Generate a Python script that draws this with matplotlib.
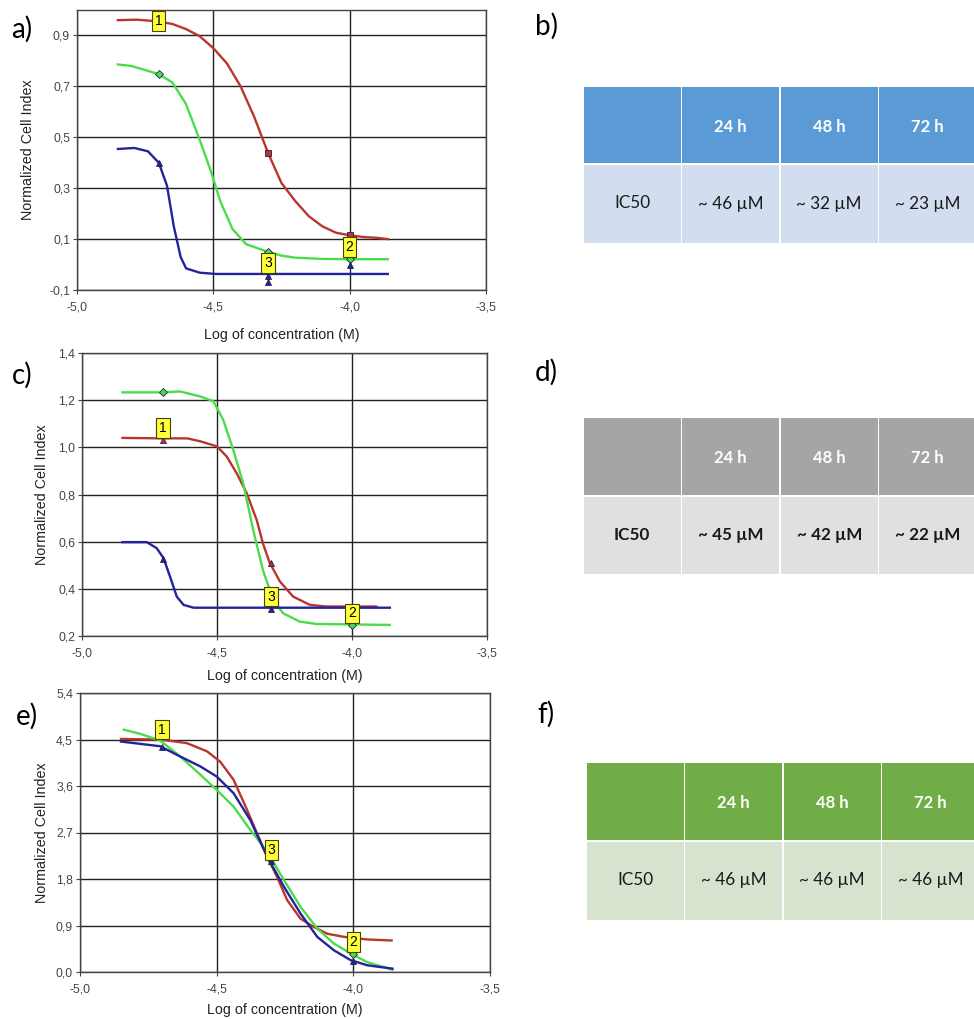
import matplotlib
matplotlib.use("Agg")
import matplotlib.pyplot as plt
from matplotlib.patches import Rectangle
from matplotlib.ticker import FuncFormatter

W, H = 974, 1019

# ---- panel a ----
a_red_x = [-4.85, -4.78, -4.70, -4.65, -4.60, -4.55, -4.50, -4.45, -4.40, -4.35,
           -4.30, -4.25, -4.20, -4.15, -4.10, -4.05, -4.00, -3.95, -3.90, -3.86]
a_red_y = [0.96, 0.962, 0.955, 0.945, 0.925, 0.897, 0.85, 0.79, 0.70, 0.58,
           0.44, 0.32, 0.25, 0.19, 0.15, 0.125, 0.115, 0.108, 0.105, 0.10]
a_grn_x = [-4.85, -4.80, -4.70, -4.65, -4.60, -4.55, -4.51, -4.475, -4.43, -4.38,
           -4.30, -4.25, -4.20, -4.10, -4.00, -3.86]
a_grn_y = [0.786, 0.78, 0.748, 0.715, 0.63, 0.49, 0.37, 0.25, 0.14, 0.08,
           0.05, 0.035, 0.027, 0.022, 0.021, 0.021]
a_blu_x = [-4.85, -4.79, -4.74, -4.70, -4.67, -4.645, -4.62, -4.60, -4.55, -4.49, -3.86]
a_blu_y = [0.454, 0.458, 0.445, 0.40, 0.31, 0.15, 0.03, -0.015, -0.032, -0.037, -0.037]
a_marks = {"red": ([-4.3, -4.0], [0.44, 0.115], "s"),
           "grn": ([-4.7, -4.3, -4.0], [0.748, 0.05, 0.02], "D"),
           "blu": ([-4.7, -4.3, -4.3, -4.0], [0.40, -0.045, -0.068, -0.003], "^")}
a_tags = [("1", -4.70, 0.956), ("2", -4.0, 0.07), ("3", -4.30, 0.005)]

# ---- panel c ----
c_red_x = [-4.85, -4.70, -4.61, -4.56, -4.50, -4.464, -4.427, -4.39, -4.353, -4.33,
           -4.305, -4.267, -4.218, -4.156, -4.095, -3.91]
c_red_y = [1.04, 1.038, 1.038, 1.025, 1.004, 0.961, 0.89, 0.806, 0.692, 0.593,
           0.511, 0.431, 0.367, 0.332, 0.325, 0.325]
c_grn_x = [-4.85, -4.70, -4.637, -4.563, -4.513, -4.477, -4.44, -4.403, -4.366, -4.33,
           -4.292, -4.255, -4.193, -4.132, -3.86]
c_grn_y = [1.233, 1.233, 1.237, 1.216, 1.195, 1.117, 0.99, 0.848, 0.65, 0.48,
           0.353, 0.296, 0.261, 0.251, 0.247]
c_blu_x = [-4.85, -4.76, -4.723, -4.698, -4.674, -4.649, -4.624, -4.587, -3.86]
c_blu_y = [0.598, 0.598, 0.572, 0.53, 0.452, 0.367, 0.332, 0.32, 0.32]
c_marks = {"red": ([-4.7, -4.3], [1.03, 0.51], "^"),
           "grn": ([-4.7, -4.0], [1.233, 0.245], "D"),
           "blu": ([-4.7, -4.3], [0.527, 0.315], "^")}
c_tags = [("1", -4.70, 1.082), ("2", -4.0, 0.296), ("3", -4.30, 0.367)]

# ---- panel e ----
e_red_x = [-4.85, -4.707, -4.609, -4.535, -4.487, -4.438, -4.389, -4.352, -4.315,
           -4.279, -4.242, -4.193, -4.144, -4.095, -4.034, -3.949, -3.86]
e_red_y = [4.51, 4.50, 4.43, 4.27, 4.07, 3.72, 3.14, 2.68, 2.23,
           1.84, 1.39, 1.03, 0.87, 0.74, 0.68, 0.63, 0.61]
e_grn_x = [-4.84, -4.78, -4.707, -4.633, -4.56, -4.499, -4.438, -4.377, -4.315,
           -4.254, -4.193, -4.132, -4.071, -4.01, -3.949, -3.857]
e_grn_y = [4.69, 4.61, 4.48, 4.17, 3.82, 3.52, 3.20, 2.75, 2.33,
           1.78, 1.26, 0.84, 0.55, 0.36, 0.19, 0.045]
e_blu_x = [-4.85, -4.707, -4.633, -4.56, -4.499, -4.438, -4.377, -4.315,
           -4.254, -4.193, -4.132, -4.071, -4.01, -3.949, -3.857]
e_blu_y = [4.46, 4.37, 4.17, 3.98, 3.78, 3.46, 2.94, 2.23,
           1.65, 1.13, 0.68, 0.42, 0.23, 0.13, 0.065]
e_marks = {"grn": ([-4.0], [0.35], "D"),
           "blu": ([-4.7, -4.3, -4.0], [4.35, 2.15, 0.22], "^")}
e_tags = [("1", -4.70, 4.69), ("2", -4.0, 0.58), ("3", -4.30, 2.36)]

# ---- tables ----
col_labels = ["", "24 h", "48 h", "72 h"]
row_label = "IC50"
b_vals = ["~ 46 µM", "~ 32 µM", "~ 23 µM"]
d_vals = ["~ 45 µM", "~ 42 µM", "~ 22 µM"]
f_vals = ["~ 46 µM", "~ 46 µM", "~ 46 µM"]

colors = {"red": "#b9362e", "grn": "#4bdc4b", "blu": "#23239c"}

fig = plt.figure(figsize=(W / 100, H / 100), dpi=100)
fig.patch.set_facecolor("white")


def px_axes(left, top, right, bottom):
    return fig.add_axes([left / W, 1 - bottom / H, (right - left) / W, (bottom - top) / H])


comma = FuncFormatter(lambda v, p: ("%.1f" % v).replace(".", ","))


def curve_panel(box, ylim, yticks, lines, marks, tags, letter, letter_xy, xlab_y, ylab_x):
    ax = px_axes(*box)
    left, top, right, bottom = box
    ax.set_xlim(-5.0, -3.5)
    ax.set_ylim(*ylim)
    ax.set_xticks([-5.0, -4.5, -4.0, -3.5])
    ax.set_yticks(yticks)
    ax.xaxis.set_major_formatter(comma)
    ax.yaxis.set_major_formatter(comma)
    ax.grid(True, color="#222222", lw=1.0)
    ax.set_axisbelow(True)
    for s in ax.spines.values():
        s.set_color("#444444")
        s.set_linewidth(1.0)
    ax.tick_params(labelsize=8.8, colors="#444444", length=3, width=0.8, pad=2)
    ax.tick_params(axis="x", pad=5)
    for lab in ax.get_xticklabels() + ax.get_yticklabels():
        lab.set_family("Liberation Sans")
    for key, (xs, ys) in lines.items():
        ax.plot(xs, ys, color=colors[key], lw=1.7, zorder=3)
    for key, (xs, ys, m) in marks.items():
        ax.plot(xs, ys, ls="none", marker=m, ms=4.5, mfc=colors[key], mec="#222244",
                mew=0.6, zorder=4)
    for t, x, y in tags:
        ax.text(x, y, t, ha="center", va="center", fontsize=10, family="Liberation Sans",
                zorder=5, bbox=dict(boxstyle="square,pad=0.2", fc="#ffff3a", ec="#444400", lw=0.8))
    ax.set_xlabel("Log of concentration (M)", fontsize=10.3, family="Liberation Sans",
                  color="#222222", va="center")
    ax.set_ylabel("Normalized Cell Index", fontsize=10.3, family="Liberation Sans",
                  color="#222222", va="center")
    ax.xaxis.set_label_coords(0.5, (bottom - xlab_y) / (bottom - top))
    ax.yaxis.set_label_coords((ylab_x - left) / (right - left), 0.5)
    fig.text(letter_xy[0] / W, 1 - letter_xy[1] / H, letter, fontsize=20,
             family="Lato", va="center", ha="left")
    return ax


curve_panel((77, 10, 486, 290), (-0.1, 1.0), [-0.1, 0.1, 0.3, 0.5, 0.7, 0.9],
            {"red": (a_red_x, a_red_y), "grn": (a_grn_x, a_grn_y), "blu": (a_blu_x, a_blu_y)},
            a_marks, a_tags, "a)", (11, 29), 335, 28)
curve_panel((82, 353, 487, 636), (0.2, 1.4), [0.2, 0.4, 0.6, 0.8, 1.0, 1.2, 1.4],
            {"red": (c_red_x, c_red_y), "grn": (c_grn_x, c_grn_y), "blu": (c_blu_x, c_blu_y)},
            c_marks, c_tags, "c)", (12, 375), 676, 42)
curve_panel((80, 693, 490, 972), (0.0, 5.4), [0.0, 0.9, 1.8, 2.7, 3.6, 4.5, 5.4],
            {"red": (e_red_x, e_red_y), "grn": (e_grn_x, e_grn_y), "blu": (e_blu_x, e_blu_y)},
            e_marks, e_tags, "e)", (16, 716), 1010, 42)


def table_panel(left, top, mid, bottom, vals, head_c, row_c, bold_row, letter, letter_xy):
    ax = px_axes(left, top, W, bottom)
    ax.set_xlim(left, W)
    ax.set_ylim(bottom, top)
    ax.axis("off")
    cw = 98.5
    gap = 1.5
    for i in range(4):
        x0 = left + i * cw
        ax.add_patch(Rectangle((x0 + gap / 2, top), cw - gap, mid - top - gap / 2,
                               fc=head_c, ec="none", clip_on=True))
        ax.add_patch(Rectangle((x0 + gap / 2, mid + gap / 2), cw - gap, bottom - mid - gap / 2,
                               fc=row_c, ec="none", clip_on=True))
        cx = x0 + cw / 2
        if col_labels[i]:
            ax.text(cx, (top + mid) / 2 + 1, col_labels[i], ha="center", va="center",
                    color="white", fontsize=12, fontweight="bold", family="Lato")
        txt = row_label if i == 0 else vals[i - 1]
        ax.text(cx, (mid + bottom) / 2, txt, ha="center", va="center", color="#1a1a1a",
                fontsize=12.3, fontweight="bold" if bold_row else "normal",
                family=["Lato", "DejaVu Sans"])
    fig.text(letter_xy[0] / W, 1 - letter_xy[1] / H, letter, fontsize=20,
             family="Lato", va="center", ha="left")


table_panel(583, 87, 164, 243, b_vals, "#5b9bd5", "#d2deef", False, "b)", (535, 26))
table_panel(583, 418, 496, 574, d_vals, "#a5a5a5", "#e0e0e0", True, "d)", (535, 372))
table_panel(586, 763, 841, 920, f_vals, "#70ad47", "#d6e3cf", False, "f)", (537, 714))

fig.savefig("out.png", dpi=100, facecolor="white")
